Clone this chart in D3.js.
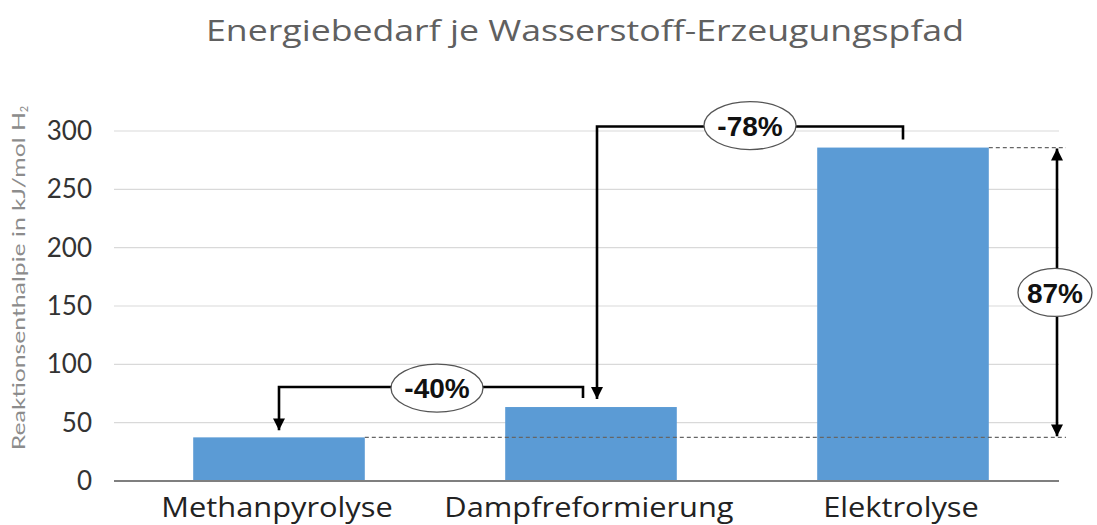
<!DOCTYPE html>
<html><head><meta charset="utf-8">
<script src="https://cdn.jsdelivr.net/npm/d3@7"></script>
<style>body{margin:0;background:#fff}svg{display:block}</style>
</head><body>
<svg id="chart" width="1097" height="525"></svg>
<script>
const categories = ["Methanpyrolyse", "Dampfreformierung", "Elektrolyse"];
const values = [37.4, 63.4, 285.8];
const yTicks = [0, 50, 100, 150, 200, 250, 300];
const title = "Energiebedarf je Wasserstoff-Erzeugungspfad";
const yLabel = "Reaktionsenthalpie in kJ/mol H";
const annotationLabels = ["-40%", "-78%", "87%"];

const svg = d3.select("#chart");
const x = d3.scaleBand().domain(categories).range([123, 1059]).paddingInner(0.45).paddingOuter(0.225);
const y = d3.scaleLinear().domain([0, 300]).range([481, 131]);

svg.append("text").attr("x", 585).attr("y", 41).attr("text-anchor", "middle")
  .attr("font-family", "Open Sans").attr("font-size", 30).attr("fill", "#606060")
  .attr("textLength", 758).attr("lengthAdjust", "spacingAndGlyphs")
  .text(title);

// gridlines
svg.append("g").selectAll("line").data(yTicks.filter(d => d > 0)).join("line")
  .attr("x1", 114).attr("x2", 1059).attr("y1", d => y(d)).attr("y2", d => y(d))
  .attr("stroke", "#d9d9d9").attr("stroke-width", 1.2);

// y tick labels
svg.append("g").selectAll("text").data(yTicks).join("text")
  .attr("x", 92).attr("y", d => y(d)).attr("dy", "0.35em").attr("text-anchor", "end")
  .attr("font-family", "Lato").attr("font-size", 26).attr("fill", "#333").text(d => d);

// y label
const yl = svg.append("text").attr("transform", "translate(25,278) rotate(-90)")
  .attr("text-anchor", "middle").attr("font-family", "Lato").attr("font-size", 18).attr("fill", "#8c8c8c");
yl.append("tspan").attr("textLength", 338).attr("lengthAdjust", "spacingAndGlyphs").text(yLabel);
yl.append("tspan").attr("font-size", 11).attr("dy", 3).text("2");

// bars
svg.append("g").selectAll("rect").data(values).join("rect")
  .attr("x", (d, i) => x(categories[i])).attr("width", x.bandwidth())
  .attr("y", d => y(d)).attr("height", d => y(0) - y(d)).attr("fill", "#5b9bd5");

// x axis line
svg.append("line").attr("x1", 114).attr("x2", 1059).attr("y1", y(0)).attr("y2", y(0))
  .attr("stroke", "#7f7f7f").attr("stroke-width", 2);

// x labels
svg.append("g").selectAll("text").data(categories).join("text")
  .attr("x", d => x(d) + x.bandwidth() / 2 - 2).attr("y", 517).attr("text-anchor", "middle")
  .attr("font-family", "Open Sans").attr("font-size", 27.5).attr("fill", "#222")
  .text(d => d)
  .each(function () {
    const w = this.getComputedTextLength();
    d3.select(this).attr("textLength", w * 1.12).attr("lengthAdjust", "spacingAndGlyphs");
  });

// dashed reference lines
const dash = svg.append("g").attr("stroke", "#666").attr("stroke-width", 1.3).attr("stroke-dasharray", "4,3");
dash.append("line").attr("x1", x(categories[0]) + x.bandwidth()).attr("x2", 1066)
  .attr("y1", y(values[0])).attr("y2", y(values[0]));
dash.append("line").attr("x1", x(categories[2]) + x.bandwidth()).attr("x2", 1066)
  .attr("y1", y(values[2])).attr("y2", y(values[2]));

// arrowheads
const defs = svg.append("defs");
defs.append("marker").attr("id", "ah").attr("viewBox", "0 0 10 10").attr("refX", 10).attr("refY", 5)
  .attr("markerWidth", 5.2).attr("markerHeight", 4.6).attr("markerUnits", "strokeWidth").attr("orient", "auto")
  .append("path").attr("d", "M0,0 L10,5 L0,10 Z").attr("fill", "#000");
defs.append("marker").attr("id", "ahs").attr("viewBox", "0 0 10 10").attr("refX", 10).attr("refY", 5)
  .attr("markerWidth", 5.2).attr("markerHeight", 4.6).attr("markerUnits", "strokeWidth").attr("orient", "auto-start-reverse")
  .append("path").attr("d", "M0,0 L10,5 L0,10 Z").attr("fill", "#000");

const cx = c => x(c) + x.bandwidth() / 2;
const ann = svg.append("g").attr("fill", "none").attr("stroke", "#000").attr("stroke-width", 2.6);

// -40% bracket: from Dampfreformierung to Methanpyrolyse
const b1y = y(values[1]) - 20;
ann.append("path").attr("d", `M${cx(categories[1]) - 8},${y(values[1]) - 9} V${b1y} H${cx(categories[0])} V${y(values[0]) - 7}`)
  .attr("marker-end", "url(#ah)");
// -78% bracket: from Elektrolyse to Dampfreformierung
const b2y = y(values[2]) - 21;
ann.append("path").attr("d", `M${cx(categories[2])},${y(values[2]) - 8} V${b2y} H${cx(categories[1]) + 6} V${y(values[1]) - 8}`)
  .attr("marker-end", "url(#ah)");
// 87% double arrow
const ax = 1057;
ann.append("path").attr("d", `M${ax},${y(values[2]) + 1} V${y(values[0]) - 1}`)
  .attr("marker-start", "url(#ahs)").attr("marker-end", "url(#ah)");

const ellipses = [
  {cx: (cx(categories[0]) + cx(categories[1])) / 2 + 2, cy: b1y + 1, rx: 46, t: annotationLabels[0]},
  {cx: (cx(categories[1]) + cx(categories[2])) / 2 + 3, cy: b2y - 1, rx: 46, t: annotationLabels[1]},
  {cx: ax - 2, cy: (y(values[0]) + y(values[2])) / 2, rx: 37, t: annotationLabels[2]}
];
const eg = svg.append("g");
eg.selectAll("ellipse").data(ellipses).join("ellipse")
  .attr("cx", d => d.cx).attr("cy", d => d.cy).attr("rx", d => d.rx).attr("ry", 24)
  .attr("fill", "#fff").attr("stroke", "#555").attr("stroke-width", 1.3);
eg.selectAll("text").data(ellipses).join("text")
  .attr("x", d => d.cx).attr("y", d => d.cy).attr("dy", "0.36em").attr("text-anchor", "middle")
  .attr("font-family", "Liberation Sans").attr("font-weight", "bold").attr("font-size", 28).attr("fill", "#111")
  .text(d => d.t);
</script>
</body></html>
